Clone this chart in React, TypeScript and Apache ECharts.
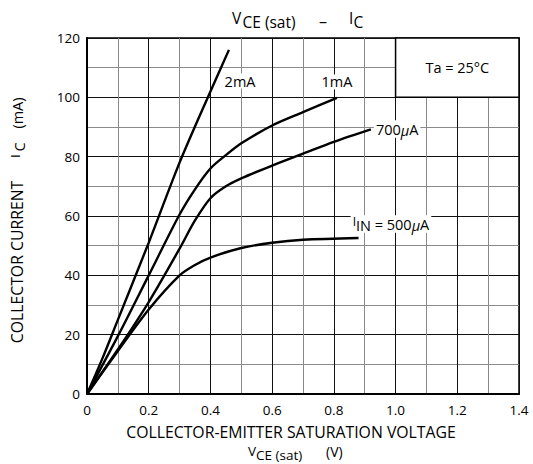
import React, { useEffect, useRef } from "react";
import * as echarts from "echarts";

const FONT = "'Open Sans', 'Noto Sans', sans-serif";

// Curves: V_CE(sat) [V] vs I_C [mA]
const v2mA = [0, 0.05, 0.1, 0.2, 0.3, 0.4, 0.46];
const i2mA = [0, 12, 25, 51, 78, 102, 116];

const v1mA = [0, 0.1, 0.2, 0.3, 0.35, 0.4, 0.45, 0.5, 0.6, 0.7, 0.81];
const i1mA = [0, 19.5, 40, 60.5, 69, 76, 80.5, 84.5, 90.5, 95, 99.8];

const v700uA = [0, 0.1, 0.2, 0.3, 0.35, 0.4, 0.45, 0.5, 0.6, 0.7, 0.8, 0.92];
const i700uA = [0, 15, 31, 49, 58.5, 66, 70, 72.7, 77, 81, 85, 89.2];

const v500uA = [0, 0.1, 0.2, 0.3, 0.35, 0.4, 0.5, 0.6, 0.7, 0.88];
const i500uA = [0, 14.5, 28.5, 40, 43.5, 46, 49.2, 51, 52, 52.6];

// curve label anchors (data coords)
const labelPos2mA = [0.496, 105.5];
const labelPos1mA = [0.81, 105.2];
const labelPos700uA = [1.005, 89.3];
const labelPos500uA = [0.985, 57.3];

// condition box
const boxFrom = [1.0, 100];
const boxTo = [1.4, 120];

const xTickLabels = ["0", "0.2", "0.4", "0.6", "0.8", "1.0", "1.2", "1.4"];
const yTickLabels = ["0", "20", "40", "60", "80", "100", "120"];

const zip = (xs: number[], ys: number[]) => xs.map((x, i) => [x, ys[i]]);

const LBL = 14.5;
const labelRich = {
  mu: { fontFamily: FONT, fontSize: LBL, fontStyle: "italic", color: "#000", lineHeight: 17.5, verticalAlign: "bottom" },
  i: { fontFamily: FONT, fontSize: 12, color: "#000", verticalAlign: "top", lineHeight: 12 },
  s: { fontFamily: FONT, fontSize: LBL, color: "#000", verticalAlign: "bottom", lineHeight: 17.5 },
};

function curveLabel(pos: number[], text: string) {
  return {
    symbol: "circle",
    symbolSize: 1,
    itemStyle: { color: "rgba(0,0,0,0)" },
    silent: true,
    data: [
      {
        coord: pos,
        label: {
          show: true,
          position: "inside",
          formatter: text,
          color: "#000",
          fontFamily: FONT,
          fontSize: LBL,
          backgroundColor: "#fff",
          padding: [0, 2, 0, 2],
          rich: labelRich,
        },
      },
    ],
  };
}

function lineSeries(name: string, xs: number[], ys: number[], pos: number[], text: string, extra: any = {}) {
  return {
    name,
    type: "line",
    data: zip(xs, ys),
    smooth: 0.3,
    showSymbol: false,
    lineStyle: { color: "#000", width: 2.4 },
    z: 3,
    markPoint: curveLabel(pos, text),
    ...extra,
  };
}

function txt(text: string, x: number, y: number, size: number, align = "left", rotation = 0) {
  return {
    type: "text",
    x,
    y,
    rotation,
    silent: true,
    style: {
      text,
      fontFamily: FONT,
      fontSize: size,
      lineHeight: size,
      fill: "#000",
      align,
      verticalAlign: "middle",
    },
  };
}

export default function App() {
  const ref = useRef<HTMLDivElement>(null);
  useEffect(() => {
    if (!ref.current) return;
    const chart = echarts.init(ref.current, null, { renderer: "svg" });
    const R = Math.PI / 2;
    const option: any = {
      animation: false,
      backgroundColor: "#fff",
      grid: {
        left: 87,
        right: 14,
        top: 38,
        bottom: 70,
        show: true,
        borderColor: "#000",
        borderWidth: 1.5,
        backgroundColor: "transparent",
      },
      xAxis: {
        type: "value",
        min: 0,
        max: 1.4,
        interval: 0.1,
        axisLine: { show: true, lineStyle: { color: "#000", width: 2 } },
        axisTick: { show: false },
        axisLabel: {
          color: "#000",
          fontFamily: FONT,
          fontSize: 13.5,
          margin: 9,
          formatter: (v: number) => {
            const k = Math.round(v * 10);
            return k % 2 === 0 ? xTickLabels[k / 2] : "";
          },
        },
        splitLine: { show: true, lineStyle: { color: ["#111", "#8a8a8a"], width: 1 } },
      },
      yAxis: {
        type: "value",
        min: 0,
        max: 120,
        interval: 10,
        axisLine: { show: true, lineStyle: { color: "#000", width: 2 } },
        axisTick: { show: false },
        axisLabel: {
          color: "#000",
          fontFamily: FONT,
          fontSize: 13.5,
          margin: 7,
          formatter: (v: number) => {
            const k = Math.round(v / 10);
            return k % 2 === 0 ? yTickLabels[k / 2] : "";
          },
        },
        splitLine: { show: true, lineStyle: { color: ["#111", "#8a8a8a"], width: 1 } },
      },
      series: [
        lineSeries("2mA", v2mA, i2mA, labelPos2mA, "2mA", {
          markArea: {
            silent: true,
            itemStyle: { color: "#fff", borderColor: "#000", borderWidth: 1.5 },
            label: {
              show: true,
              position: "inside",
              color: "#000",
              fontFamily: FONT,
              fontSize: LBL,
              formatter: "Ta = 25°C",
            },
            data: [[{ coord: boxFrom }, { coord: boxTo }]],
          },
        }),
        lineSeries("1mA", v1mA, i1mA, labelPos1mA, "1mA"),
        lineSeries("700uA", v700uA, i700uA, labelPos700uA, "700{mu|μ}A"),
        lineSeries("500uA", v500uA, i500uA, labelPos500uA, "{i|I}{s|IN} = 500{mu|μ}A"),
      ],
      graphic: [
        // title: V CE (sat) – I C
        txt("V", 232, 18, 15.5),
        txt("CE (sat)", 242.5, 22, 15.5),
        txt("–", 319, 21, 16),
        txt("I", 349, 18, 15.5),
        txt("C", 353.5, 22, 15.5),
        // x axis name
        txt("COLLECTOR-EMITTER SATURATION VOLTAGE", 291, 431.5, 15.8, "center"),
        txt("V", 248, 450.5, 13.5),
        txt("CE (sat)", 256, 455, 13.5),
        txt("(V)", 326, 451.5, 14),
        // y axis name (rotated, reading upward)
        txt("COLLECTOR CURRENT", 17, 262, 15.8, "center", R),
        txt("I", 15, 156, 13.5, "center", R),
        txt("C", 19, 147, 14.5, "center", R),
        txt("(mA)", 17, 113, 14.5, "center", R),
      ],
    };
    chart.setOption(option);
    return () => chart.dispose();
  }, []);
  return (
    <div
      ref={ref}
      style={{ position: "fixed", left: 0, top: 0, width: 533, height: 464 }}
    />
  );
}
